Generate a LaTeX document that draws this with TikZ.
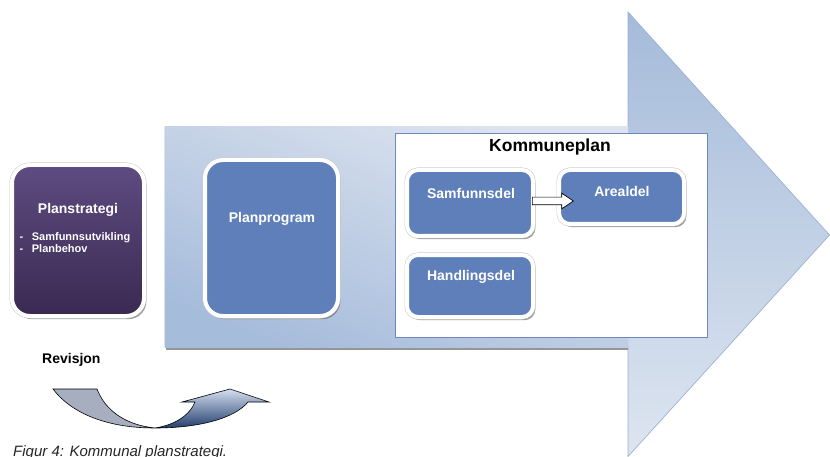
\documentclass[tikz,border=0pt]{standalone}
\usepackage{fontspec}
\setmainfont{Liberation Sans}
\usetikzlibrary{shadows,shapes.arrows}
\definecolor{boxblue}{HTML}{5F7FBA}
\definecolor{purptop}{HTML}{5E4B81}
\definecolor{purpbot}{HTML}{3A2A51}
\definecolor{arrtop}{HTML}{A5BBDA}
\definecolor{arrbot}{HTML}{DDE5F0}
\definecolor{arredge}{HTML}{9BB1D4}
\definecolor{bodydark}{HTML}{A6BCDB}
\definecolor{bodylight}{HTML}{DDE4EF}
\definecolor{kpedge}{HTML}{6E88BE}
\definecolor{revgrey}{HTML}{A7AEC0}
\definecolor{revdark}{HTML}{243F6D}
\definecolor{revlight}{HTML}{D3DEF0}
\tikzset{
  framed/.style={draw=white, line width=4pt, inner sep=0pt,
    drop shadow={shadow xshift=2.4pt, shadow yshift=-3.2pt, fill=black!55, opacity=0.7},
    preaction={draw=black!22, line width=5pt}},
  bigbox/.style={framed, rounded corners=18pt},
  smallbox/.style={framed, rounded corners=11pt, fill=boxblue},
  wtext/.style={text=white, font=\bfseries\fontsize{14}{16}\selectfont, inner sep=0pt},
  btext/.style={text=black, font=\bfseries\fontsize{14}{16}\selectfont, inner sep=0pt},
}
\begin{document}
\begin{tikzpicture}[x=1pt,y=-1pt]
\useasboundingbox (0,0) rectangle (830,457);
% big arrow
\path[shade, top color=arrtop, bottom color=arrbot, draw=arredge, line width=0.7pt]
  (165,127) -- (628,127) -- (628,12) -- (829.5,235) -- (628,456.5) -- (628,347) -- (165,347) -- cycle;
% body of the arrow
\fill[black!55, opacity=0.75] (166,130) rectangle (628,350);
\path[shade, top color=bodylight, bottom color=bodydark, shading angle=-22] (165,127) rectangle (628,347);
% Planprogram
\node[bigbox, fill=boxblue, minimum width=133pt, minimum height=156pt] (pp) at (271.5,238) {};
\node[wtext] (pptxt) at (272,219) {Planprogram};
% Kommuneplan frame
\node[draw=kpedge, fill=white, line width=0.8pt, minimum width=312pt, minimum height=204pt, inner sep=0pt] (kp) at (551,235) {};
\node[btext, font=\bfseries\fontsize{17.5}{20}\selectfont] (kptxt) at (550,147) {Kommuneplan};
% inner boxes
\node[smallbox, minimum width=126pt, minimum height=66pt] (sam) at (470,203) {};
\node[wtext] (samtxt) at (471,193) {Samfunnsdel};
\node[smallbox, minimum width=125pt, minimum height=54pt] (are) at (621.5,197) {};
\node[wtext] (aretxt) at (622,191) {Arealdel};
\node[smallbox, minimum width=126pt, minimum height=62pt] (han) at (470,286) {};
\node[wtext] (hantxt) at (471,277) {Handlingsdel};
% small block arrow
\node[single arrow, draw=black, fill=white, line width=0.7pt, minimum height=41pt, minimum width=15pt,
  inner sep=3.5pt, single arrow head extend=4pt, single arrow tip angle=68] (sa) at (550,201) {};
% Planstrategi
\node[bigbox, top color=purptop, bottom color=purpbot, minimum width=132pt, minimum height=151pt] (ps) at (78,240.5) {};
\node[wtext] (pstxt) at (78,210) {Planstrategi};
\node[text=white, font=\bfseries\fontsize{11}{12}\selectfont, inner sep=0pt, anchor=north west] (psl) at (19.5,231.5)
  {\begin{tabular}{@{}l@{\hspace{8.5pt}}l@{}}-&Samfunnsutvikling\\-&Planbehov\end{tabular}};
% Revisjon
\node[btext, anchor=west] (rev) at (42,360) {Revisjon};
% curved arrow
\path[fill=revgrey, draw=black, line width=0.6pt]
  (53,389) -- (97,389) .. controls (105,410) and (125,425) .. (155,428)
  .. controls (108,428) and (72,414) .. cycle;
\path[shade, top color=revlight, bottom color=revdark, draw=black, line width=0.6pt]
  (155,428) .. controls (200,428) and (235,418) .. (248,402)
  -- (269,402) -- (230,389) -- (182,402) -- (195,402)
  .. controls (190,415) and (175,425) .. cycle;
% caption
\node[anchor=base west, inner sep=0pt, font=\itshape\fontsize{15}{17}\selectfont, text=black!85] (cap) at (13,456.5) {Figur 4: Kommunal planstrategi.};
\end{tikzpicture}
\end{document}
